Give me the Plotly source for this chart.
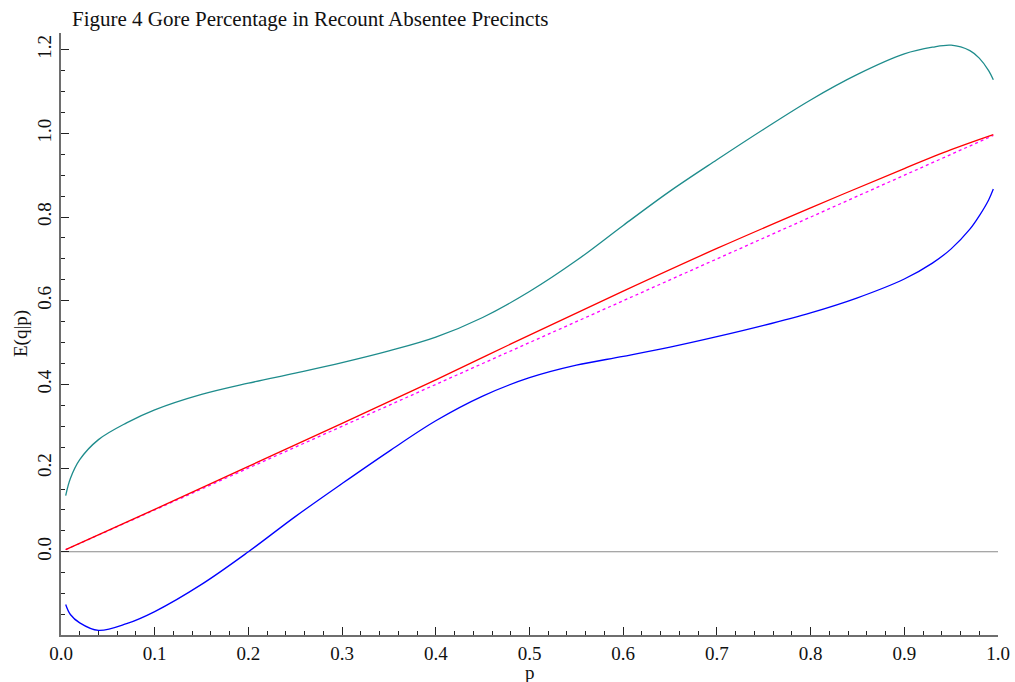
import plotly.graph_objects as go

# ---- data ----
p_grid = [0.005, 0.01, 0.02, 0.04, 0.07, 0.1, 0.15, 0.2, 0.25, 0.3, 0.35, 0.4,
          0.45, 0.5, 0.55, 0.6, 0.65, 0.7, 0.75, 0.8, 0.85, 0.9, 0.93, 0.95,
          0.97, 0.98, 0.99, 0.995]
upper_band = [0.134, 0.175, 0.22, 0.268, 0.308, 0.339, 0.376, 0.403, 0.427, 0.452,
              0.480, 0.513, 0.560, 0.622, 0.696, 0.780, 0.862, 0.937, 1.010, 1.080,
              1.141, 1.190, 1.206, 1.211, 1.198, 1.180, 1.150, 1.128]
lower_band = [-0.126, -0.150, -0.170, -0.188, -0.172, -0.143, -0.078, 0.0, 0.084, 0.163,
              0.240, 0.313, 0.372, 0.416, 0.446, 0.467, 0.489, 0.514, 0.541, 0.571,
              0.607, 0.652, 0.690, 0.724, 0.771, 0.803, 0.841, 0.867]
p_fit = [0.005, 0.1, 0.2, 0.3, 0.4, 0.5, 0.6, 0.7, 0.8, 0.9, 0.95, 0.995]
fit = [0.005, 0.1015, 0.204, 0.307, 0.411, 0.518, 0.623, 0.725, 0.822, 0.916, 0.961, 0.997]
p_diag = [0.005, 0.995]
q_diag = [0.005, 0.995]
p_zero = [0.0, 1.0]
q_zero = [0.0, 0.0]

title_text = "Figure 4 Gore Percentage in Recount Absentee Precincts"
x_label = "p"
y_label = "E(q|p)"
x_ticks = [0.0, 0.1, 0.2, 0.3, 0.4, 0.5, 0.6, 0.7, 0.8, 0.9, 1.0]
y_ticks = [0.0, 0.2, 0.4, 0.6, 0.8, 1.0, 1.2]

FONT = "Liberation Serif"
W, H = 1015, 682
L, R, T, B = 61, 17, 33, 47
PW, PH = W - L - R, H - T - B

fig = go.Figure()
fig.add_trace(go.Scatter(x=p_zero, y=q_zero, mode="lines",
                         line=dict(color="#8a8a8a", width=1.2), hoverinfo="skip"))
fig.add_trace(go.Scatter(x=p_grid, y=upper_band, mode="lines", line_shape="spline",
                         line=dict(color="#1e8c8c", width=1.3)))
fig.add_trace(go.Scatter(x=p_grid, y=lower_band, mode="lines", line_shape="spline",
                         line=dict(color="#0000ff", width=1.3)))
fig.add_trace(go.Scatter(x=p_diag, y=q_diag, mode="lines",
                         line=dict(color="#ff00ff", width=1.3, dash="dot")))
fig.add_trace(go.Scatter(x=p_fit, y=fit, mode="lines", line_shape="spline",
                         line=dict(color="#ff0000", width=1.3)))

axis_common = dict(
    showgrid=False, zeroline=False, showline=True, linecolor="#6e6e6e", linewidth=2,
    ticks="inside", ticklen=8, tickwidth=1, tickcolor="#222222", automargin=False,
    tickfont=dict(family=FONT, size=19, color="#111111"), tickformat=".1f",
)
fig.update_xaxes(range=[0, 1.0], tickvals=x_ticks,
                 minor=dict(dtick=0.02, tick0=0, ticks="inside", ticklen=4,
                            tickcolor="#222222", tickwidth=1),
                 **axis_common)
fig.update_yaxes(range=[-0.199, 1.24], tickvals=y_ticks, tickangle=-90,
                 ticklabelstandoff=0,
                 minor=dict(dtick=0.05, tick0=0, ticks="inside", ticklen=4,
                            tickcolor="#222222", tickwidth=1),
                 **axis_common)

fig.update_layout(
    width=W, height=H, showlegend=False,
    plot_bgcolor="white", paper_bgcolor="white",
    margin=dict(l=L, r=R, t=T, b=B),
    font=dict(family=FONT, color="#111111"),
    annotations=[
        dict(text=title_text, xref="paper", yref="paper", x=9 / PW, y=1 + 14 / PH,
             xanchor="left", yanchor="middle", showarrow=False,
             font=dict(family=FONT, size=21, color="#111111")),
        dict(text=x_label, xref="paper", yref="paper", x=0.5, y=-37 / PH,
             xanchor="center", yanchor="middle", showarrow=False,
             font=dict(family=FONT, size=19, color="#111111")),
        dict(text=y_label, xref="paper", yref="paper", x=-40 / PW, y=0.5,
             xanchor="center", yanchor="middle", showarrow=False, textangle=-90,
             font=dict(family=FONT, size=19, color="#111111")),
    ],
)

fig.write_html(
    "out.html",
    config={"displayModeBar": False},
    post_script="document.body.style.margin='0';document.body.style.overflow='hidden';",
)
